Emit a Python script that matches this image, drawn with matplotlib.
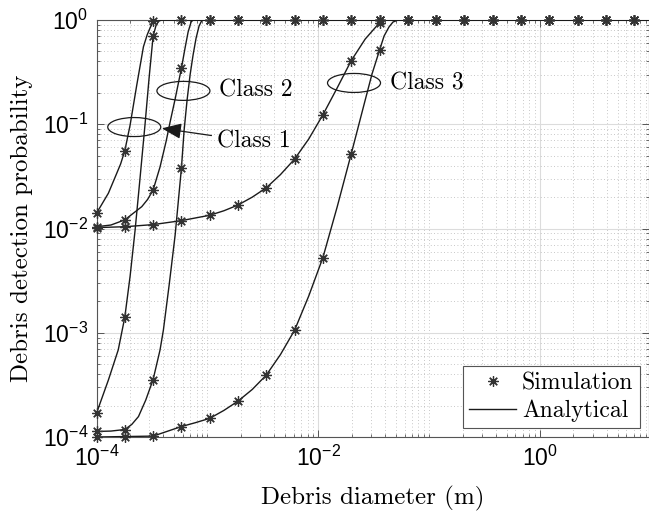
import matplotlib
matplotlib.use("Agg")
import matplotlib.pyplot as plt
import numpy as np
from matplotlib.lines import Line2D
from matplotlib.patches import Ellipse
from matplotlib.transforms import ScaledTranslation
from matplotlib.ticker import FixedLocator, LogLocator, NullFormatter

# Debris diameters used in the Monte Carlo runs (m)
sim_d = [1.0e-4, 1.8e-4, 3.24e-4, 5.83e-4, 1.05e-3, 1.89e-3, 3.40e-3, 6.12e-3,
         1.10e-2, 1.98e-2, 3.57e-2, 6.43e-2, 0.116, 0.208, 0.375, 0.675,
         1.21, 2.19, 3.93, 7.08]

# Simulated detection probability, two curves per debris class
sim_c1_hi = [0.0140, 0.0557, 0.97, 1, 1, 1, 1, 1, 1, 1,
             1, 1, 1, 1, 1, 1, 1, 1, 1, 1]
sim_c1_lo = [1.69e-4, 1.41e-3, 0.70, 1, 1, 1, 1, 1, 1, 1,
             1, 1, 1, 1, 1, 1, 1, 1, 1, 1]
sim_c2_hi = [0.0104, 0.0121, 0.0234, 0.344, 1, 1, 1, 1, 1, 1,
             1, 1, 1, 1, 1, 1, 1, 1, 1, 1]
sim_c2_lo = [1.13e-4, 1.18e-4, 3.56e-4, 0.0378, 1, 1, 1, 1, 1, 1,
             1, 1, 1, 1, 1, 1, 1, 1, 1, 1]
sim_c3_hi = [0.0102, 0.0104, 0.0109, 0.0119, 0.0134, 0.0168, 0.0246, 0.0464,
             0.123, 0.407, 0.94, 1, 1, 1, 1, 1, 1, 1, 1, 1]
sim_c3_lo = [1.0e-4, 1.01e-4, 1.02e-4, 1.26e-4, 1.51e-4, 2.21e-4, 3.93e-4,
             1.06e-3, 5.25e-3, 0.0518, 0.515, 1, 1, 1, 1, 1, 1, 1, 1, 1]

# Analytical model, evaluated on a finer diameter grid
ana_c1_hi_d = [1.0e-4, 1.28e-4, 1.50e-4, 1.65e-4, 1.80e-4, 2.01e-4, 2.30e-4,
               2.65e-4, 2.86e-4, 3.04e-4, 3.24e-4, 3.48e-4, 10.0]
ana_c1_hi_p = [0.0140, 0.0218, 0.0326, 0.0416, 0.0557, 0.0984, 0.233,
               0.554, 0.718, 0.838, 0.96, 1.0, 1.0]
ana_c1_lo_d = [1.0e-4, 1.28e-4, 1.57e-4, 1.80e-4, 2.01e-4, 2.23e-4, 2.47e-4,
               2.74e-4, 2.98e-4, 3.24e-4, 3.45e-4, 3.66e-4, 3.88e-4, 10.0]
ana_c1_lo_p = [1.69e-4, 3.52e-4, 6.84e-4, 1.41e-3, 3.5e-3, 9.7e-3, 0.0305,
               0.100, 0.278, 0.70, 0.895, 0.978, 1.0, 1.0]
ana_c2_hi_d = [1.0e-4, 1.35e-4, 1.80e-4, 2.56e-4, 2.89e-4, 3.24e-4, 3.74e-4,
               4.25e-4, 4.61e-4, 5.12e-4, 5.83e-4, 6.29e-4, 6.70e-4, 7.13e-4,
               7.43e-4, 10.0]
ana_c2_hi_p = [0.0104, 0.0108, 0.0121, 0.0162, 0.019, 0.0234, 0.0389,
               0.069, 0.105, 0.175, 0.344, 0.539, 0.767, 0.957,
               1.0, 1.0]
ana_c2_lo_d = [1.0e-4, 1.35e-4, 1.80e-4, 2.08e-4, 2.39e-4, 2.78e-4, 3.24e-4,
               3.74e-4, 4.01e-4, 4.52e-4, 5.12e-4, 5.45e-4, 5.83e-4, 6.17e-4,
               6.56e-4, 6.98e-4, 7.43e-4, 7.91e-4, 8.41e-4, 8.95e-4, 10.0]
ana_c2_lo_p = [1.13e-4, 1.14e-4, 1.18e-4, 1.32e-4, 1.57e-4, 2.26e-4, 3.56e-4,
               6.83e-4, 1.06e-3, 2.87e-3, 8.67e-3, 0.0176, 0.0378, 0.0881,
               0.171, 0.297, 0.462, 0.672, 0.875, 1.0, 1.0]
ana_c3_hi_d = [1.0e-4, 1.8e-4, 3.24e-4, 5.83e-4, 1.05e-3, 1.41e-3, 1.89e-3,
               2.54e-3, 3.40e-3, 4.56e-3, 6.12e-3, 8.2e-3, 1.10e-2, 1.48e-2,
               1.98e-2, 2.65e-2, 3.57e-2, 4.08e-2, 10.0]
ana_c3_hi_p = [0.0102, 0.0104, 0.0109, 0.0119, 0.0134, 0.0148, 0.0168,
               0.0200, 0.0246, 0.0329, 0.0464, 0.0722, 0.123, 0.223,
               0.407, 0.657, 0.942, 1.0, 1.0]
ana_c3_lo_d = [1.0e-4, 1.8e-4, 3.24e-4, 5.83e-4, 7.76e-4, 1.05e-3, 1.41e-3,
               1.89e-3, 2.54e-3, 3.40e-3, 4.56e-3, 6.12e-3, 8.2e-3, 1.10e-2,
               1.48e-2, 1.98e-2, 2.65e-2, 3.05e-2, 3.57e-2, 3.92e-2, 4.34e-2,
               4.72e-2, 5.25e-2, 10.0]
ana_c3_lo_p = [1.0e-4, 1.01e-4, 1.02e-4, 1.26e-4, 1.37e-4, 1.51e-4, 1.80e-4,
               2.21e-4, 2.86e-4, 3.93e-4, 6.18e-4, 1.06e-3, 2.25e-3, 5.25e-3,
               0.0161, 0.0518, 0.171, 0.303, 0.515, 0.702, 0.857,
               0.957, 1.0, 1.0]

sim_curves = [sim_c1_hi, sim_c1_lo, sim_c2_hi, sim_c2_lo, sim_c3_hi, sim_c3_lo]
ana_curves = [(ana_c1_hi_d, ana_c1_hi_p), (ana_c1_lo_d, ana_c1_lo_p),
              (ana_c2_hi_d, ana_c2_hi_p), (ana_c2_lo_d, ana_c2_lo_p),
              (ana_c3_hi_d, ana_c3_hi_p), (ana_c3_lo_d, ana_c3_lo_p)]

serif = "cmr10"
line_color = "#1a1a1a"
marker_color = "#333333"
asterisk = (8, 2, 0)

fig = plt.figure(figsize=(6.49, 5.17), dpi=100)
ax = fig.add_axes([96.5 / 649, 1 - 437 / 517, (648.5 - 96.5) / 649, 417 / 517])

for d, p in ana_curves:
    ax.plot(d, p, color=line_color, lw=1.0, zorder=3)

for p in sim_curves:
    ax.plot(sim_d, p, linestyle="none", marker=asterisk, markersize=7.5,
            mew=0.9, color=marker_color, clip_on=False, zorder=4)

ax.set_xscale("log")
ax.set_yscale("log")
ax.set_xlim(1e-4, 9.5)
ax.set_ylim(1e-4, 1)

ax.xaxis.set_major_locator(FixedLocator([1e-4, 1e-2, 1e0]))
ax.xaxis.set_minor_locator(LogLocator(base=10, subs=np.arange(1, 10), numticks=30))
ax.xaxis.set_minor_formatter(NullFormatter())
ax.yaxis.set_major_locator(LogLocator(base=10, numticks=10))
ax.yaxis.set_minor_locator(LogLocator(base=10, subs=np.arange(2, 10), numticks=30))
ax.yaxis.set_minor_formatter(NullFormatter())

ax.grid(True, which="major", color="#dcdcdc", lw=0.8, ls="-", zorder=0)
ax.grid(True, which="minor", color="#b5b5b5", lw=0.6, ls=(0, (1, 3)), zorder=0)
ax.set_axisbelow(True)

ax.tick_params(which="both", direction="in", top=True, right=True,
               color="#555555")
ax.tick_params(which="major", length=5, width=0.7, labelsize=16.5, pad=6)
ax.tick_params(which="minor", length=2.5, width=0.6)
for lab in ax.get_xticklabels() + ax.get_yticklabels():
    lab.set_fontfamily("Liberation Sans")
for s in ax.spines.values():
    s.set_color("#555555")
    s.set_linewidth(0.8)

ax.set_xlabel("Debris diameter (m)", fontfamily=serif, fontsize=18, labelpad=11)
ax.set_ylabel("Debris detection probability", fontfamily=serif, fontsize=18,
              labelpad=7)

# Class markers: ellipses drawn in inches around a data-space centre
def class_ellipse(xc, yc, w=0.53, h=0.19):
    tr = fig.dpi_scale_trans + ScaledTranslation(xc, yc, ax.transData)
    ax.add_patch(Ellipse((0, 0), w, h, transform=tr, fill=False,
                         ec=line_color, lw=0.9, zorder=5, clip_on=False))

class_ellipse(2.19e-4, 0.094)
class_ellipse(6.08e-4, 0.209)
class_ellipse(0.0210, 0.249)

ax.text(1.26e-3, 0.213, "Class 2", fontfamily=serif, fontsize=17,
        va="center", ha="left", zorder=6)
ax.text(0.0443, 0.247, "Class 3", fontfamily=serif, fontsize=17,
        va="center", ha="left", zorder=6)
ax.annotate("Class 1", xy=(3.88e-4, 0.0914), xytext=(1.22e-3, 0.068),
            fontfamily=serif, fontsize=17, va="center", ha="left", zorder=6,
            arrowprops=dict(arrowstyle="-|>,head_length=0.75,head_width=0.3",
                            mutation_scale=16, color=line_color, lw=0.9,
                            shrinkA=2, shrinkB=0))

handles = [Line2D([], [], linestyle="none", marker=asterisk, markersize=7.5,
                  mew=0.9, color=marker_color),
           Line2D([], [], color=line_color, lw=1.0)]
leg = ax.legend(handles, ["Simulation", "Analytical"], loc="lower right",
                prop=dict(family=serif, size=17), fancybox=False,
                framealpha=1, edgecolor="#555555", handlelength=2.0,
                borderaxespad=0.38, labelspacing=0.22, borderpad=0.26,
                handletextpad=0.25)
leg.get_frame().set_linewidth(0.8)

fig.savefig("out.png", dpi=100)
